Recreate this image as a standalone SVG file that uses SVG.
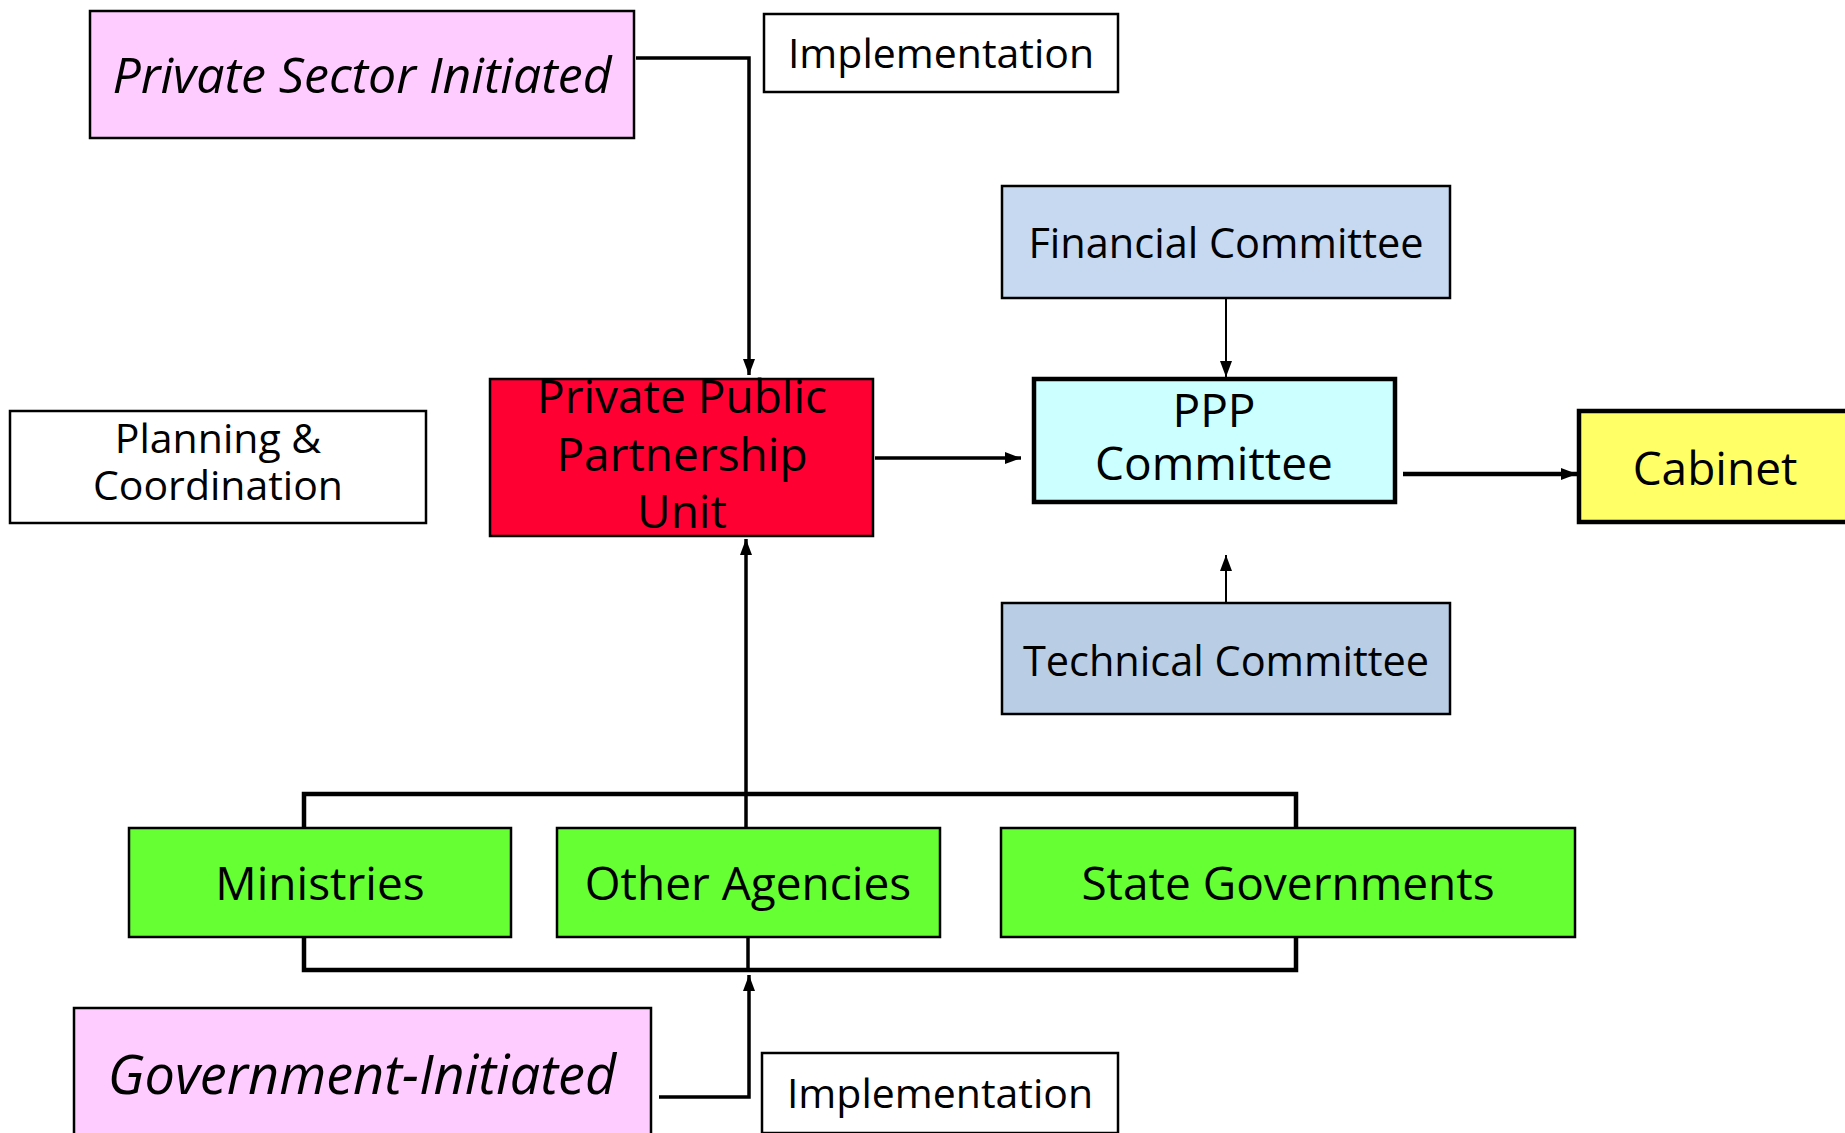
<svg xmlns="http://www.w3.org/2000/svg" width="1845" height="1133" viewBox="0 0 1845 1133">
  <style>
    .box { stroke: #000; stroke-width: 2.5; }
    .heavy { stroke: #000; stroke-width: 4.5; }
    .lbl { font-family: "Open Sans", "Noto Sans", sans-serif; fill: #000; text-anchor: middle; }
    .it { font-style: italic; }
    .wire { fill: none; stroke: #000; stroke-linejoin: miter; }
  </style>
  <defs>
    <marker id="arrow" markerUnits="userSpaceOnUse" markerWidth="16" markerHeight="16" viewBox="0 0 16 16" refX="16" refY="8" orient="auto">
      <path d="M0,2 L16,8 L0,14 Z" fill="#000"/>
    </marker>
    <marker id="arrowSm" markerUnits="userSpaceOnUse" markerWidth="16" markerHeight="16" viewBox="0 0 16 16" refX="16" refY="8" orient="auto">
      <path d="M0,2 L16,8 L0,14 Z" fill="#000"/>
    </marker>
  </defs>

  <rect width="1845" height="1133" fill="#fff"/>

  <!-- connectors -->
  <g id="connectors">
    <!-- private sector initiated down to the PPP unit -->
    <path class="wire" d="M636,58 H749 V375" stroke-width="3.5" marker-end="url(#arrow)"/>
    <!-- PPP unit to PPP committee -->
    <path class="wire" d="M875,458 H1021" stroke-width="3.5" marker-end="url(#arrow)"/>
    <!-- PPP committee to cabinet -->
    <path class="wire" d="M1403,474 H1577" stroke-width="4.5" marker-end="url(#arrow)"/>
    <!-- financial committee down to PPP committee -->
    <path class="wire" d="M1226,298 V377" stroke-width="2" marker-end="url(#arrowSm)"/>
    <!-- technical committee up to PPP committee -->
    <path class="wire" d="M1226,602 V555" stroke-width="2" marker-end="url(#arrowSm)"/>
    <!-- upper bus over the implementing bodies -->
    <path class="wire" d="M304,828 V794 H1296 V828" stroke-width="4.5"/>
    <path class="wire" d="M746,828 V794" stroke-width="3.5"/>
    <!-- riser from the bus to the PPP unit -->
    <path class="wire" d="M746,794 V539" stroke-width="3.5" marker-end="url(#arrow)"/>
    <!-- lower bus under the implementing bodies -->
    <path class="wire" d="M304,937 V970 H1296 V937" stroke-width="4.5"/>
    <path class="wire" d="M748,937 V970" stroke-width="3.5"/>
    <!-- government initiated up to the lower bus -->
    <path class="wire" d="M659,1097 H749 V975" stroke-width="3.5" marker-end="url(#arrow)"/>
  </g>

  <!-- nodes -->
  <g id="private-sector-initiated">
    <rect class="box" x="90" y="11" width="544" height="127" fill="#FFCCFF"/>
    <text class="lbl it" x="362" y="93" font-size="50">Private Sector Initiated</text>
  </g>

  <g id="implementation-top">
    <rect class="box" x="764" y="14" width="354" height="78" fill="#fff"/>
    <text class="lbl" x="941" y="68" font-size="41">Implementation</text>
  </g>

  <g id="financial-committee">
    <rect class="box" x="1002" y="186" width="448" height="112" fill="#C6D9F1"/>
    <text class="lbl" x="1226" y="258" font-size="41.5">Financial Committee</text>
  </g>

  <g id="planning-coordination">
    <rect class="box" x="10" y="411" width="416" height="112" fill="#fff"/>
    <text class="lbl" x="218" y="453" font-size="41">Planning &amp;</text>
    <text class="lbl" x="218" y="500" font-size="41">Coordination</text>
  </g>

  <g id="ppp-unit">
    <rect class="box" x="490" y="379" width="383" height="157" fill="#FF0033"/>
    <text class="lbl" x="682" y="413" font-size="46">Private Public</text>
    <text class="lbl" x="682" y="471" font-size="46">Partnership</text>
    <text class="lbl" x="682" y="528" font-size="46">Unit</text>
  </g>

  <g id="ppp-committee">
    <rect class="heavy" x="1034" y="379" width="361" height="123" fill="#CCFFFF"/>
    <text class="lbl" x="1214" y="427" font-size="46">PPP</text>
    <text class="lbl" x="1214" y="480" font-size="46">Committee</text>
  </g>

  <g id="cabinet">
    <rect class="heavy" x="1579" y="411" width="280" height="111" fill="#FFFF66"/>
    <text class="lbl" x="1715" y="485" font-size="46">Cabinet</text>
  </g>

  <g id="technical-committee">
    <rect class="box" x="1002" y="603" width="448" height="111" fill="#B9CDE5"/>
    <text class="lbl" x="1226" y="676" font-size="41.5">Technical Committee</text>
  </g>

  <g id="ministries">
    <rect class="box" x="129" y="828" width="382" height="109" fill="#66FF33"/>
    <text class="lbl" x="320" y="900" font-size="46">Ministries</text>
  </g>

  <g id="other-agencies">
    <rect class="box" x="557" y="828" width="383" height="109" fill="#66FF33"/>
    <text class="lbl" x="748" y="900" font-size="46">Other Agencies</text>
  </g>

  <g id="state-governments">
    <rect class="box" x="1001" y="828" width="574" height="109" fill="#66FF33"/>
    <text class="lbl" x="1288" y="900" font-size="46">State Governments</text>
  </g>

  <g id="government-initiated">
    <rect class="box" x="74" y="1008" width="577" height="140" fill="#FFCCFF"/>
    <text class="lbl it" x="362" y="1094" font-size="54">Government-Initiated</text>
  </g>

  <g id="implementation-bottom">
    <rect class="box" x="762" y="1053" width="356" height="80" fill="#fff"/>
    <text class="lbl" x="940" y="1108" font-size="41">Implementation</text>
  </g>
</svg>
